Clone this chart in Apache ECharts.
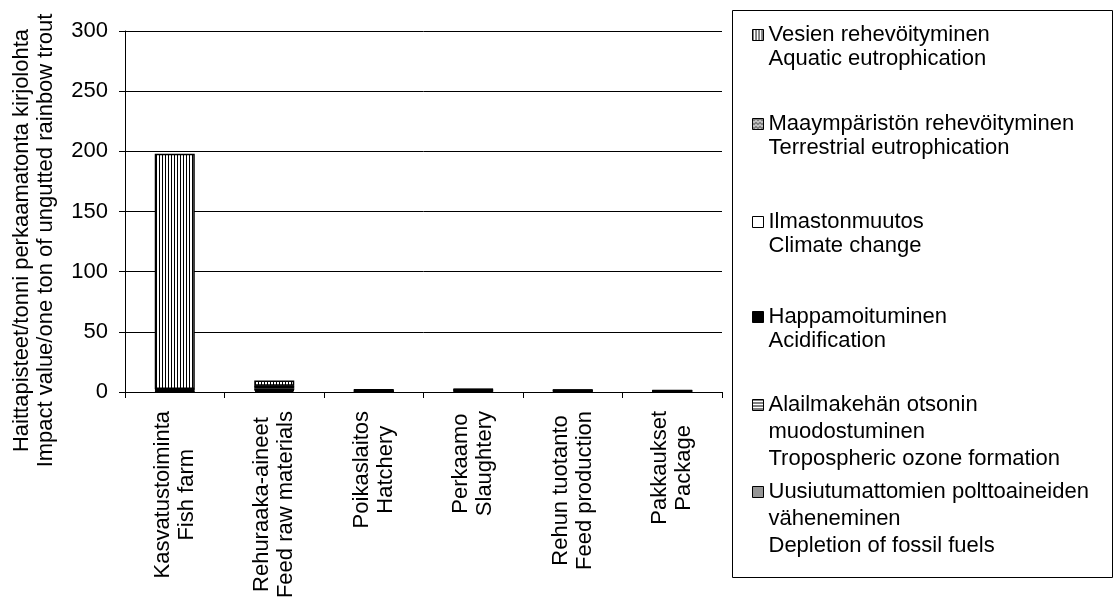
<!DOCTYPE html>
<html>
<head>
<meta charset="utf-8">
<script src="https://cdn.jsdelivr.net/npm/echarts@6/dist/echarts.min.js"></script>
<style>html,body{margin:0;padding:0;background:#fff;}#chart{width:1120px;height:601px;}</style>
</head>
<body>
<div id="chart"></div>
<script>
// ---- data ----
const categories = [
  ["Kasvatustoiminta", "Fish farm"],
  ["Rehuraaka-aineet", "Feed raw materials"],
  ["Poikaslaitos", "Hatchery"],
  ["Perkaamo", "Slaughtery"],
  ["Rehun tuotanto", "Feed production"],
  ["Pakkaukset", "Package"]
];
// stacking order bottom -> top
const fossilFuels   = [0.5, 1.2, 0.3, 0.8, 0.6, 0.5];
const ozone         = [0.3, 0.4, 0.1, 0.1, 0.1, 0.05];
const acidification = [0.8, 1.5, 0.2, 0.3, 0.2, 0.1];
const climateChange = [0.5, 1.8, 0.4, 0.8, 0.6, 0.4];
const terrestrial   = [0.3, 0.3, 0.1, 0.1, 0.05, 0.05];
const aquatic       = [195.6, 4.4, 1.3, 0.4, 0.2, 0.1];
const yTicks = [0, 50, 100, 150, 200, 250, 300];

const seriesNames = {
  aquatic: ["Vesien rehevöityminen", "Aquatic eutrophication"],
  terrestrial: ["Maaympäristön rehevöityminen", "Terrestrial eutrophication"],
  climate: ["Ilmastonmuutos", "Climate change"],
  acid: ["Happamoituminen", "Acidification"],
  ozone: ["Alailmakehän otsonin", "muodostuminen", "Tropospheric ozone formation"],
  fossil: ["Uusiutumattomien polttoaineiden", "väheneminen", "Depletion of fossil fuels"]
};
const yTitle = ["Haittapisteet/tonni perkaamatonta kirjolohta", "Impact value/one ton of ungutted rainbow trout"];

// ---- patterns ----
function makePattern(w, h, draw) {
  const c = document.createElement('canvas');
  c.width = w; c.height = h;
  const ctx = c.getContext('2d');
  ctx.fillStyle = '#fff'; ctx.fillRect(0, 0, w, h);
  ctx.fillStyle = '#000';
  draw(ctx);
  return { image: c, repeat: 'repeat' };
}
const vStripes = makePattern(3, 3, ctx => ctx.fillRect(0, 0, 1, 3));
const hStripes = makePattern(3, 3, ctx => ctx.fillRect(0, 0, 3, 1));
const waves = makePattern(4, 4, ctx => {
  ctx.fillRect(0, 0, 1, 1); ctx.fillRect(1, 1, 1, 1); ctx.fillRect(2, 1, 1, 1); ctx.fillRect(3, 0, 1, 1);
  ctx.fillRect(0, 2, 1, 1); ctx.fillRect(2, 3, 1, 1);
});

const FONT = "'Liberation Sans', Arial, sans-serif";
const FS = 22;

function nm(arr) { return arr.join('\n'); }

const defs = [
  { key: 'fossil', data: fossilFuels, color: '#969696' },
  { key: 'ozone', data: ozone, color: hStripes },
  { key: 'acid', data: acidification, color: '#000' },
  { key: 'climate', data: climateChange, color: '#fff' },
  { key: 'terrestrial', data: terrestrial, color: waves },
  { key: 'aquatic', data: aquatic, color: vStripes }
];

const series = defs.map(d => ({
  name: nm(seriesNames[d.key]),
  type: 'bar',
  stack: 'total',
  barWidth: 40,
  data: d.data,
  itemStyle: { color: d.color, borderColor: '#000', borderWidth: 1.5 },
  emphasis: { disabled: true }
}));

// legend, top to bottom
const legendOrder = ['aquatic', 'terrestrial', 'climate', 'acid', 'ozone', 'fossil'];
const iconCenters = [35, 124, 222, 317, 405, 492];
const legends = legendOrder.map((k, i) => {
  const lines = seriesNames[k];
  const lh = lines.length > 2 ? 27 : 24;
  const pad = lines.length - 1; // blank lines so the first line is centred on the icon
  const total = lines.length + pad;
  return {
    data: [nm(seriesNames[k])],
    formatter: () => '\n'.repeat(pad) + lines.join('\n'),
    left: 752,
    top: iconCenters[i] - total * lh / 2,
    padding: 0,
    orient: 'vertical',
    itemWidth: 11,
    itemHeight: 11,
    icon: 'rect',
    selectedMode: false,
    itemStyle: { borderColor: '#000', borderWidth: 1 },
    textStyle: { fontFamily: FONT, fontSize: FS, color: '#000', lineHeight: lh }
  };
});

const chart = echarts.init(document.getElementById('chart'), null, { renderer: 'canvas' });
chart.setOption({
  animation: false,
  backgroundColor: '#fff',
  textStyle: { fontFamily: FONT },
  grid: { left: 125, right: 398, top: 31, bottom: 209, containLabel: false, outerBoundsMode: 'none' },
  legend: legends,
  graphic: [{
    type: 'rect',
    shape: { x: 732.5, y: 10.5, width: 380, height: 567 },
    style: { fill: 'none', stroke: '#000', lineWidth: 1 },
    silent: true
  }],
  xAxis: {
    type: 'category',
    data: categories.map(c => c.join('\n')),
    axisLine: { lineStyle: { color: '#000', width: 1 } },
    axisTick: { show: true, length: 6, interval: 0, lineStyle: { color: '#000' } },
    axisLabel: {
      interval: 0,
      rotate: 90,
      margin: 19,
      color: '#000',
      fontFamily: FONT,
      fontSize: FS,
      formatter: v => v.split('\n').map(s => '{c|' + s + '}').join('\n'),
      rich: { c: { align: 'center', fontFamily: FONT, fontSize: FS, lineHeight: 24, color: '#000' } }
    }
  },
  yAxis: {
    type: 'value',
    min: yTicks[0],
    max: yTicks[yTicks.length - 1],
    interval: yTicks[1] - yTicks[0],
    name: nm(yTitle),
    nameLocation: 'middle',
    nameGap: 67,
    nameTextStyle: { fontFamily: FONT, fontSize: FS, color: '#000', lineHeight: 24, padding: [0, 58, 0, 0] },
    axisLine: { show: true, lineStyle: { color: '#000', width: 1 } },
    axisTick: { show: true, length: 6, lineStyle: { color: '#000' } },
    axisLabel: { color: '#000', fontFamily: FONT, fontSize: FS, margin: 17 },
    splitLine: { show: true, lineStyle: { color: '#000', width: 1 } }
  },
  series: series
});
</script>
</body>
</html>
